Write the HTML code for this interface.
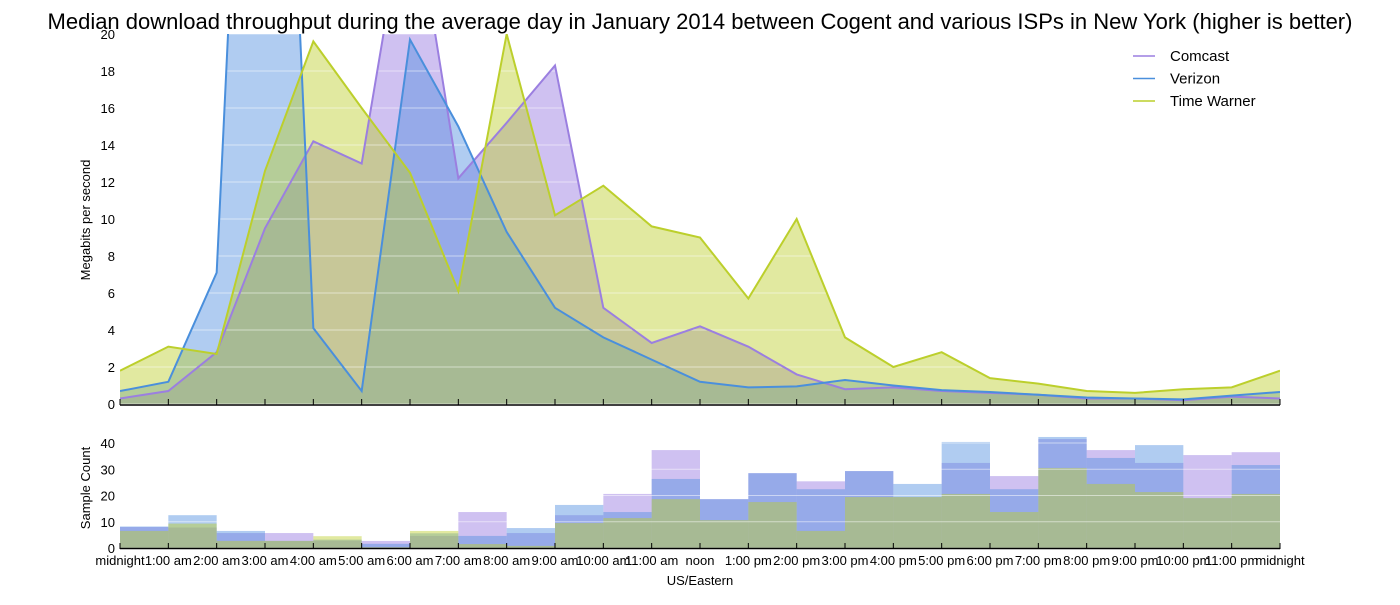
<!DOCTYPE html>
<html><head><meta charset="utf-8"><style>
body{margin:0;background:#fff;font-family:"Liberation Sans",sans-serif;}
svg text{font-family:"Liberation Sans",sans-serif;}
</style></head><body>
<svg id="c" width="1400" height="600" xmlns="http://www.w3.org/2000/svg">
<text x="700" y="29" text-anchor="middle" font-size="22">Median download throughput during the average day in January 2014 between Cogent and various ISPs in New York (higher is better)</text>
<defs><clipPath id="tc"><rect x="120" y="34" width="1160" height="371"/></clipPath></defs>
<g id="topPlot" clip-path="url(#tc)"></g>
<g id="topLines" clip-path="url(#tc)"></g>
<g id="topAxis"></g>
<g id="botPlot"></g>
<g id="botAxis"></g>
<g id="legendG"></g>
</svg>
<script>
const hours=["midnight","1:00 am","2:00 am","3:00 am","4:00 am","5:00 am","6:00 am","7:00 am","8:00 am","9:00 am","10:00 am","11:00 am","noon","1:00 pm","2:00 pm","3:00 pm","4:00 pm","5:00 pm","6:00 pm","7:00 pm","8:00 pm","9:00 pm","10:00 pm","11:00 pm","midnight"];
const comcast=[0.3,0.7,2.8,9.5,14.2,13.0,28.5,12.2,15.2,18.3,5.2,3.3,4.2,3.1,1.6,0.8,0.9,0.7,0.6,0.5,0.3,0.3,0.2,0.4,0.3];
const verizon=[0.7,1.2,7.1,62,4.1,0.7,19.7,15.0,9.3,5.2,3.6,2.4,1.2,0.9,0.95,1.3,1.0,0.75,0.65,0.5,0.35,0.3,0.25,0.45,0.65];
const timewarner=[1.8,3.1,2.7,12.6,19.6,16.0,12.5,6.1,20.0,10.2,11.8,9.6,9.0,5.7,10.0,3.6,2.0,2.8,1.4,1.1,0.7,0.6,0.8,0.9,1.8];
const comcastCount=[8,7.8,5.7,5.7,2.8,2.7,4.6,13.7,5.7,12.5,20.6,37.3,18.6,28.5,25.4,29.3,19.4,32.4,27.4,41.5,37.3,32.4,35.4,36.5];
const verizonCount=[8.2,12.5,6.5,2.7,3.2,1.6,5.6,4.6,7.6,16.4,13.7,26.3,18.6,28.5,22.4,29.3,24.4,40.4,22.4,42.3,34.3,39.2,19,31.6];
const twCount=[6.5,9.3,2.7,2.7,4.5,0.3,6.5,1.5,0.8,9.5,11.4,18.6,10.6,17.5,6.5,19.4,19.4,20.6,13.7,30.5,24.4,21.3,19,20.6];
const yTicks=[0,2,4,6,8,10,12,14,16,18,20];
const yTicksB=[0,10,20,30,40];
const NS="http://www.w3.org/2000/svg";
const X=i=>120+i*1160/24, Y=v=>404-v*18.5, YB=v=>548-v*2.625;
function mk(p,t,a){const e=document.createElementNS(NS,t);for(const k in a)e.setAttribute(k,a[k]);p.appendChild(e);return e;}
const gTop=document.getElementById('topPlot'),gLines=document.getElementById('topLines'),ta=document.getElementById('topAxis'),gBot=document.getElementById('botPlot'),ba=document.getElementById('botAxis'),lg=document.getElementById('legendG');
const series=[["Comcast",comcast,comcastCount,"#9b7fe0","#9575e0"],["Verizon",verizon,verizonCount,"#4a8fdc","#4f8fe0"],["Time Warner",timewarner,twCount,"#bccf2c","#bccf2c"]];
series.forEach(([nm,d,cnt,lc,fc])=>{
  const key=nm.toLowerCase().replace(' ','-');
  const pts=d.map((v,i)=>X(i)+","+Y(v)).join(" ");
  const a=mk(gTop,'polygon',{points:X(0)+","+Y(0)+" "+pts+" "+X(24)+","+Y(0),fill:fc,'fill-opacity':0.45});
  
  
  const l=mk(gLines,'polyline',{points:pts,fill:'none',stroke:lc,'stroke-width':2});
  
  
  cnt.forEach((v,i)=>{
    const r=mk(gBot,'rect',{x:X(i),y:YB(v),width:X(i+1)-X(i),height:YB(0)-YB(v),fill:fc,'fill-opacity':0.45});
    
    
  });
});
yTicks.forEach(v=>{
  mk(gTop,'line',{x1:120,x2:1280,y1:Y(v),y2:Y(v),stroke:'#fff','stroke-opacity':0.5,'stroke-width':1});
  const t=mk(ta,'text',{x:115,y:Y(v)+5,'text-anchor':'end','font-size':13});t.textContent=v;
  
  
});
yTicksB.forEach(v=>{
  mk(gBot,'line',{x1:120,x2:1280,y1:YB(v),y2:YB(v),stroke:'#fff','stroke-opacity':0.5,'stroke-width':1});
  const t=mk(ba,'text',{x:115,y:YB(v)+5,'text-anchor':'end','font-size':13});t.textContent=v;
  
  
});
mk(ta,'line',{x1:120,x2:1280,y1:405,y2:405,stroke:'#000','stroke-width':1.5});
mk(ba,'line',{x1:120,x2:1280,y1:548.5,y2:548.5,stroke:'#000','stroke-width':1.5});
hours.forEach((h,i)=>{
  mk(ta,'line',{x1:X(i),x2:X(i),y1:405,y2:399,stroke:'#000'});
  mk(ba,'line',{x1:X(i),x2:X(i),y1:549,y2:543,stroke:'#000'});
  const t=mk(ba,'text',{x:X(i),y:565,'text-anchor':'middle','font-size':13});t.textContent=h;
  
  
});
let tt=mk(ta,'text',{x:90,y:220,'text-anchor':'middle','font-size':13,transform:'rotate(-90 90 220)'});tt.textContent="Megabits per second";


tt=mk(ba,'text',{x:90,y:488,'text-anchor':'middle','font-size':13,transform:'rotate(-90 90 488)'});tt.textContent="Sample Count";


tt=mk(ba,'text',{x:700,y:585,'text-anchor':'middle','font-size':13});tt.textContent="US/Eastern";


series.forEach(([nm,d,c,lc],k)=>{
  const y=56+k*22.5;
  mk(lg,'line',{x1:1133,x2:1155,y1:y,y2:y,stroke:lc,'stroke-width':1.5});
  const e=mk(lg,'text',{x:1170,y:y+5,'font-size':15});e.textContent=nm;
  
  
});
</script>
</body></html>
